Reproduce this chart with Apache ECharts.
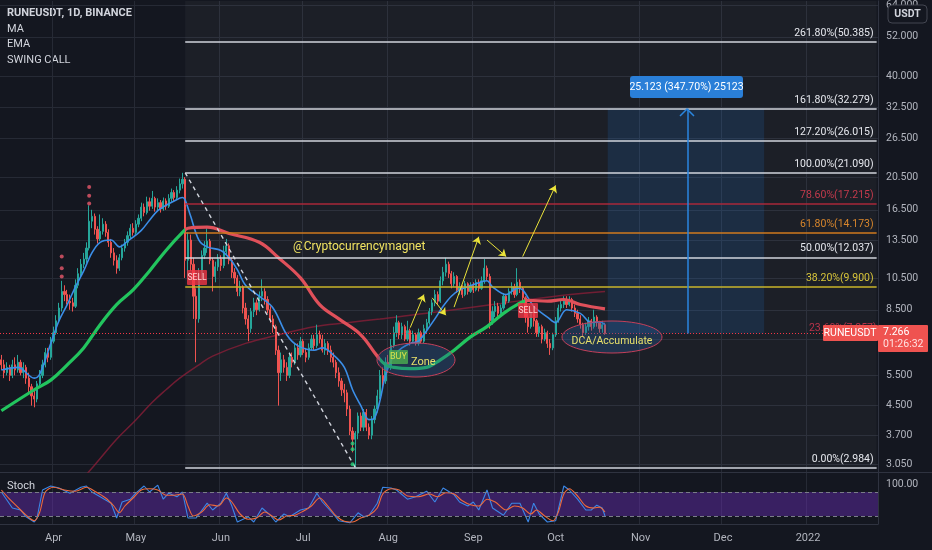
<!DOCTYPE html>
<html><head><meta charset="utf-8">
<script src="https://cdn.jsdelivr.net/npm/echarts@6/dist/echarts.min.js"></script>
<style>html,body{margin:0;padding:0;background:#141720;}#c{width:932px;height:550px;}</style>
</head><body><div id="c"></div>
<script>
// ---------- data ----------
const startDate = [2021, 2, 13];   // 13 Mar 2021 (first daily bar)
const dayCount = 320;              // visible days on the time axis
const tickDates = ['2021-04-01','2021-05-01','2021-06-01','2021-07-01','2021-08-01','2021-09-01','2021-10-01','2021-11-01','2021-12-01','2022-01-01'];
const tickLabels = ['Apr','May','Jun','Jul','Aug','Sep','Oct','Nov','Dec','2022'];
const priceTicks = [3.05,3.7,4.5,5.5,7,8.5,10.5,13.5,16.5,20.5,26.5,32.5,40,52,64];
const stochTicks = [100];

// daily candles [open, close, low, high]
const candles = [
[6.1,5.9,5.7,6.3],[5.9,5.6,5.4,6.1],[5.6,5.8,5.5,6.0],[5.8,5.5,5.3,5.9],[5.5,5.9,5.4,6.1],
[5.9,5.7,5.5,6.2],[5.7,6.0,5.6,6.3],[6.0,5.6,5.5,6.1],[5.6,5.8,5.4,6.0],[5.8,5.4,5.2,5.9],
[5.4,5.1,4.9,5.6],[5.1,4.8,4.5,5.2],[4.8,4.7,4.45,5.0],[4.7,5.2,4.6,5.3],[5.2,5.5,5.1,5.7],
[5.5,5.9,5.4,6.1],[5.9,6.4,5.8,6.6],[6.4,6.2,6.0,6.6],[6.2,6.9,6.1,7.1],[6.9,7.3,6.8,7.6],
[7.3,7.9,7.2,8.2],[7.9,8.6,7.8,8.9],[8.6,9.6,8.4,10.3],[9.6,9.4,9.0,10.0],[9.4,9.0,8.8,9.7],
[9.0,8.9,8.5,9.4],[8.9,8.7,8.4,9.2],[8.7,10.0,8.6,10.4],[10.0,10.8,9.8,11.2],[10.8,11.5,10.5,11.9],
[11.5,11.9,11.2,12.4],[11.9,12.8,11.6,13.3],[12.8,15.3,12.6,17.0],[15.3,15.8,14.6,16.5],[15.8,14.5,14.0,16.1],
[14.5,13.6,13.2,14.8],[13.6,14.3,13.4,16.0],[14.3,15.0,14.0,15.6],[15.0,14.2,13.8,15.3],[14.2,13.3,12.9,14.5],
[13.3,12.4,12.0,13.6],[12.4,11.8,11.4,12.8],[11.8,11.2,10.8,12.2],[11.2,12.0,11.0,12.3],[12.0,12.8,11.8,13.1],
[12.8,13.3,12.5,13.6],[13.3,13.9,13.0,14.3],[13.9,14.6,13.6,15.0],[14.6,14.2,13.9,15.1],[14.2,15.0,14.0,15.4],
[15.0,15.6,14.7,16.0],[15.6,16.8,15.3,17.3],[16.8,16.2,15.8,17.2],[16.2,17.4,16.0,18.0],[17.4,16.9,16.4,17.9],
[16.9,17.8,16.6,18.7],[17.8,16.8,16.3,18.0],[16.8,17.3,16.4,17.8],[17.3,16.6,16.2,17.6],[16.6,17.5,16.4,17.9],
[17.5,16.9,16.5,17.8],[16.9,17.8,16.7,18.3],[17.8,18.5,17.4,19.0],[18.5,17.9,17.5,18.8],[17.9,18.8,17.7,19.3],
[18.8,19.6,18.4,20.3],[19.6,20.2,19.0,21.09],[20.2,11.8,10.5,20.5],[11.8,13.5,10.5,14.2],[13.5,11.5,11.0,14.0],
[11.5,9.3,8.0,12.0],[9.3,8.0,6.0,9.8],[8.0,10.8,7.8,11.2],[10.8,12.2,10.4,12.6],[12.2,12.8,11.9,13.4],
[12.8,13.4,12.4,14.6],[13.4,11.8,11.5,13.6],[11.8,10.6,9.6,12.0],[10.6,11.3,10.2,11.7],[11.3,11.9,11.0,12.3],
[11.9,11.4,11.0,12.2],[11.4,12.5,11.2,13.0],[12.5,13.0,12.2,13.6],[13.0,11.8,11.5,13.2],[11.8,10.9,10.5,12.0],
[10.9,10.5,10.1,11.2],[10.5,9.6,9.3,10.7],[9.6,9.9,9.3,10.3],[9.9,8.6,8.3,10.0],[8.6,8.0,7.7,8.9],
[8.0,7.5,6.9,8.2],[7.5,8.4,7.3,8.6],[8.4,8.9,8.1,9.2],[8.9,8.5,8.2,9.1],[8.5,9.3,8.4,9.6],
[9.3,9.6,9.0,10.4],[9.6,9.1,8.8,9.8],[9.1,8.5,8.3,9.3],[8.5,8.0,7.8,8.7],[8.0,7.6,7.3,8.2],
[7.6,6.5,6.3,7.7],[6.5,5.6,4.5,6.7],[5.6,6.1,5.3,6.4],[6.1,5.8,5.6,6.3],[5.8,5.5,5.3,6.0],
[5.5,6.2,5.4,6.4],[6.2,6.0,5.8,6.4],[6.0,6.6,5.9,6.8],[6.6,6.3,6.1,6.8],[6.3,6.9,6.2,7.1],
[6.9,6.4,6.3,7.0],[6.4,6.2,6.0,6.6],[6.2,6.6,6.1,6.8],[6.6,7.0,6.5,7.2],[7.0,6.7,6.5,7.2],
[6.7,7.2,6.6,7.7],[7.2,7.0,6.8,7.4],[7.0,6.5,6.4,7.2],[6.5,6.8,6.3,7.0],[6.8,6.5,6.3,6.9],
[6.5,6.2,6.0,6.7],[6.2,6.0,5.8,6.4],[6.0,5.6,5.4,6.1],[5.6,5.3,5.1,5.8],[5.3,5.0,4.8,5.4],
[5.0,4.9,4.6,5.2],[4.9,4.4,4.2,5.0],[4.4,3.8,3.7,4.5],[3.8,3.6,3.3,3.9],[3.6,3.75,2.984,3.8],
[3.75,4.2,3.6,4.3],[4.2,3.9,3.8,4.3],[3.9,4.3,3.8,4.4],[4.3,3.9,3.8,4.4],[3.9,3.7,3.6,4.0],
[3.7,4.1,3.6,4.2],[4.1,4.4,4.0,4.5],[4.4,4.8,4.3,5.0],[4.8,5.5,4.7,5.7],[5.5,5.3,5.0,5.8],
[5.3,6.0,5.2,6.2],[6.0,5.8,5.6,6.3],[5.8,6.7,5.7,7.0],[6.7,7.3,6.6,7.6],[7.3,7.8,7.1,8.2],
[7.8,7.2,7.0,7.9],[7.2,7.6,7.0,7.8],[7.6,7.0,6.9,7.7],[7.0,7.4,6.9,7.9],[7.4,6.9,6.7,7.5],
[6.9,7.2,6.8,7.4],[7.2,6.8,6.7,7.3],[6.8,7.3,6.7,7.5],[7.3,6.9,6.8,7.4],[6.9,7.5,6.8,7.7],
[7.5,7.8,7.3,8.0],[7.8,8.4,7.7,8.6],[8.4,8.9,8.2,9.1],[8.9,9.4,8.7,9.7],[9.4,9.0,8.8,9.6],
[9.0,10.3,8.9,10.6],[10.3,10.9,10.0,11.3],[10.9,11.5,10.6,12.0],[11.5,10.8,10.5,11.7],[10.8,10.1,9.8,11.0],
[10.1,10.6,9.9,10.9],[10.6,9.7,9.5,10.7],[9.7,9.9,9.4,10.2],[9.9,9.4,9.2,10.0],[9.4,10.1,9.3,10.3],
[10.1,9.6,9.4,10.2],[9.6,10.0,9.5,10.2],[10.0,9.7,9.5,10.2],[9.7,10.2,9.6,10.4],[10.2,9.8,9.6,10.4],
[9.8,10.3,9.7,10.6],[10.3,11.2,10.1,11.9],[11.2,10.6,10.3,11.4],[10.6,7.9,7.5,10.8],[7.9,8.4,7.7,8.7],
[8.4,8.7,8.1,9.0],[8.7,8.3,8.1,8.9],[8.3,8.6,8.1,8.8],[8.6,9.3,8.5,9.5],[9.3,9.0,8.8,9.4],
[9.0,9.6,8.9,9.8],[9.6,9.9,9.4,10.2],[9.9,9.4,9.2,10.1],[9.4,10.2,9.3,11.2],[10.2,9.8,9.5,10.4],
[9.8,9.2,9.0,9.9],[9.2,8.1,7.8,9.3],[8.1,7.6,7.3,8.3],[7.6,8.3,7.5,8.5],[8.3,7.9,7.6,8.4],
[7.9,7.3,7.1,8.0],[7.3,7.6,7.1,7.8],[7.6,7.0,6.8,7.7],[7.0,7.3,6.9,7.5],[7.3,6.8,6.6,7.4],
[6.8,6.6,6.3,7.0],[6.6,7.2,6.5,7.3],[7.2,7.9,7.1,8.1],[7.9,8.6,7.8,8.8],[8.6,8.8,8.4,9.1],
[8.8,9.0,8.6,9.3],[9.0,8.8,8.6,9.3],[8.8,9.1,8.7,9.3],[9.1,8.6,8.4,9.2],[8.6,8.3,8.1,8.8],
[8.3,8.0,7.8,8.5],[8.0,7.7,7.5,8.2],[7.7,7.3,7.1,7.8],[7.3,7.6,7.2,7.8],[7.6,7.9,7.4,8.1],
[7.9,7.6,7.4,8.0],[7.6,8.1,7.5,8.5],[8.1,7.8,7.6,8.2],[7.8,7.5,7.3,7.9],[7.5,7.7,7.3,7.9],
[7.7,7.266,7.2,7.8]
];
const lastPrice = 7.266;

// indicator lines: [day index, value]
const emaPts = [[0,5.7],[6,5.8],[12,5.4],[14,5.55],[18,6.8],[21,7.9],[24,8.8],[27,9.9],[30,11.0],[33,12.4],[36,13.3],[40,13.5],[43,12.9],[46,13.4],[51,14.4],[54,15.4],[57,16.4],[60,17.0],[63,17.5],[66,17.9],[67,17.6],[69,15.8],[72,13.5],[75,12.9],[80,12.6],[83,12.0],[86,11.1],[89,10.0],[94,9.3],[99,8.6],[104,7.2],[108,6.7],[114,6.5],[117,6.6],[121,6.3],[125,5.8],[128,5.0],[131,4.5],[134,4.1],[136,4.15],[138,4.66],[140,5.5],[143,6.25],[146,6.6],[149,6.8],[152,6.9],[155,7.4],[158,8.0],[161,8.7],[164,9.3],[167,9.7],[170,9.9],[173,10.1],[177,10.3],[179,9.9],[184,9.4],[188,9.8],[190,9.7],[194,8.7],[199,8.1],[202,7.8],[206,8.5],[211,8.3],[215,7.8],[218,7.85],[220,7.7]];
const maPts = [[0,4.35],[12,5.0],[18,5.33],[24,5.9],[30,6.6],[36,7.7],[42,8.8],[48,9.7],[54,11.0],[60,12.6],[66,14.2],[68,14.6],[75,14.7],[83,14.1],[94,13.3],[101,12.0],[109,10.5],[116,8.8],[123,8.0],[131,7.2],[137,6.25],[140,5.9],[143,5.8],[149,5.75],[155,5.8],[160,6.1],[165,6.5],[171,7.1],[177,7.6],[183,8.3],[188,8.8],[192,9.05],[199,9.0],[205,9.1],[211,8.8],[220,8.55]];
const maTrendBreaks = [67,138,191];  // colour changes of the trend MA
const ma200Pts = [[31,2.85],[35,3.1],[42,3.6],[49,4.09],[55,4.6],[60,5.0],[65,5.4],[72,5.9],[77,6.25],[89,6.8],[101,7.2],[114,7.6],[126,7.8],[138,8.0],[155,8.3],[179,8.8],[204,9.35],[220,9.6]];
const sellDots = [[22,12.1],[22,11.2],[22,10.6],[32,19.2],[32,18.1],[32,17.2]];
const buyDots = [[128,3.5],[128,3.37],[128,3.05]];

// stochastic
const stochK = [[0,80],[2,60],[4,40],[7,35],[9,18],[12,5],[13,15],[15,85],[18,95],[21,90],[25,77],[29,92],[31,95],[33,80],[36,68],[40,52],[42,15],[44,55],[47,62],[49,77],[52,95],[54,80],[57,97],[59,62],[61,77],[64,68],[66,80],[68,15],[71,15],[75,52],[77,35],[80,52],[82,77],[84,45],[86,5],[90,18],[92,5],[95,40],[98,22],[100,5],[103,25],[105,18],[109,35],[112,40],[115,77],[117,55],[121,25],[123,8],[127,3],[130,28],[132,18],[134,22],[137,52],[139,92],[142,90],[144,85],[148,62],[151,68],[155,82],[158,55],[161,90],[165,73],[167,55],[170,45],[172,55],[174,35],[177,85],[179,40],[183,22],[186,52],[189,52],[192,5],[194,52],[196,25],[199,5],[202,8],[205,95],[207,85],[210,62],[213,35],[215,35],[217,47],[219,40],[220,20]];
const stochD = [[0,85],[3,62],[6,42],[9,22],[12,8],[14,30],[16,80],[19,92],[23,85],[27,82],[31,92],[34,82],[38,65],[41,45],[43,28],[45,45],[48,65],[51,85],[54,88],[57,85],[60,72],[63,72],[66,75],[68,45],[70,20],[73,30],[76,48],[79,45],[82,65],[84,55],[87,25],[90,12],[93,15],[96,30],[99,18],[101,10],[104,20],[107,22],[110,32],[113,45],[116,65],[119,45],[122,20],[125,7],[128,5],[131,15],[134,22],[137,40],[139,75],[142,88],[145,85],[148,70],[152,68],[156,75],[159,68],[162,78],[165,75],[168,58],[171,48],[174,45],[177,62],[180,55],[184,35],[187,45],[190,40],[193,25],[195,35],[198,20],[201,8],[203,30],[205,75],[207,88],[210,70],[213,45],[216,40],[218,42],[220,30]];
const stochBand = [20,80];

// fibonacci retracement
const fibStart = 67, fibLow = 129;
const fibLabels = ['261.80%','161.80%','127.20%','100.00%','78.60%','61.80%','50.00%','38.20%','23.60%','0.00%'];
const fibValues = [50.385,32.279,26.015,21.090,17.215,14.173,12.037,9.900,7.257,2.984];

// annotation arrows [[idx,price],[idx,price]]
const arrowSegs = [
 [[149,7.55],[154,9.4]],
 [[157,9.2],[162,8.2]],
 [[165,8.65],[174,13.8]],
 [[177,13.5],[184,12.1]],
 [[190,12.1],[202,19.4]]
];
const rangeBox = {from:221, to:278, arrowAt:250, low:7.266, high:32.279, text:'25.123 (347.70%) 25123'};

// ---------- chart ----------
const categories = [];
{
  const d0 = Date.UTC(startDate[0], startDate[1], startDate[2]);
  for (let i = 0; i < dayCount; i++) categories.push(new Date(d0 + i*86400000).toISOString().slice(0,10));
}
const GRID = '#262a35';
const TXT = '#b2b5be';
const FONT = 'Roboto, "Liberation Sans", sans-serif';
const isTick = (i, v) => tickDates.indexOf(v) >= 0;

const fibLineColors = ['#d1d4dc','#d1d4dc','#d1d4dc','#d1d4dc','#a8283a','#cf7a1e','#d1d4dc','#c8b42a','rgba(0,0,0,0)','#d1d4dc'];
const fibTextColors = ['#e6e8ee','#e6e8ee','#e6e8ee','#e6e8ee','#c33a4c','#d8862c','#e6e8ee','#d8c53a','#b8334a','#e6e8ee'];

const fibLines = fibValues.map((v, i) => [
  {coord:[fibStart, v], lineStyle:{color:fibLineColors[i], width:1.6, type:'solid'},
   label:{show:true, position:'insideEndTop', distance:(i === 8 ? 0 : 3), color:fibTextColors[i], fontSize:10.5, fontFamily:FONT,
          formatter: fibLabels[i] + '(' + v.toFixed(3) + ')'}},
  {coord:[dayCount-1, v]}
]);
fibLines.push([{coord:[fibStart, fibValues[3]], lineStyle:{color:'#d1d4dc', width:1.4, type:[4,4]}, label:{show:false}},
               {coord:[fibLow, fibValues[9]]}]);
fibLines.push({yAxis:lastPrice, lineStyle:{color:'#f23645', width:1, type:[1,2]}, label:{show:false}});

const option = {
  backgroundColor:'#141720',
  animation:false,
  textStyle:{fontFamily:FONT},
  grid:[{left:0,right:54,top:0,height:472},{left:0,right:54,top:473,height:51}],
  xAxis:[
    {type:'category', gridIndex:0, data:categories, boundaryGap:true,
     axisLine:{show:false}, axisTick:{show:false}, axisLabel:{show:false},
     splitLine:{show:true, interval:isTick, lineStyle:{color:GRID}}},
    {type:'category', gridIndex:1, data:categories, boundaryGap:true,
     axisLine:{show:true, lineStyle:{color:'#2f3340'}}, axisTick:{show:false},
     axisLabel:{interval:isTick, formatter:v => tickLabels[tickDates.indexOf(v)], color:TXT, fontSize:11, margin:9},
     splitLine:{show:true, interval:isTick, lineStyle:{color:GRID}}}
  ],
  yAxis:[
    {type:'log', gridIndex:0, position:'right', min:2.897, max:65.98, logBase:10,
     axisLine:{show:true, lineStyle:{color:'#2f3340'}},
     axisTick:{show:false, customValues:priceTicks},
     axisLabel:{customValues:priceTicks, formatter:v => Number(v).toFixed(3), color:TXT, fontSize:10.5, margin:8},
     splitLine:{show:true, lineStyle:{color:GRID}}},
    {type:'value', gridIndex:1, position:'right', min:0, max:127.5,
     axisLine:{show:true, lineStyle:{color:'#2f3340'}},
     axisTick:{show:false, customValues:stochTicks},
     axisLabel:{customValues:stochTicks, formatter:v => Number(v).toFixed(2), color:TXT, fontSize:10.5, margin:8},
     splitLine:{show:false}}
  ],
  visualMap:[{type:'piecewise', show:false, seriesIndex:2, dimension:0,
    pieces:[{lt:maTrendBreaks[0], color:'#22c55e'},
            {gte:maTrendBreaks[0], lt:maTrendBreaks[1], color:'#e0505a'},
            {gte:maTrendBreaks[1], lt:maTrendBreaks[2], color:'#22c55e'},
            {gte:maTrendBreaks[2], color:'#e0505a'}]}],
  series:[
    {type:'candlestick', xAxisIndex:0, yAxisIndex:0, data:candles, barWidth:'62%', z:3,
     itemStyle:{color:'#26a69a', color0:'#ef5350', borderColor:'#26a69a', borderColor0:'#ef5350', borderWidth:1},
     markArea:{silent:true, data:[
       [{coord:[fibStart, fibValues[9]], itemStyle:{color:'rgba(255,255,255,0.035)'}}, {coord:[dayCount-1, 65.98]}],
       [{coord:[rangeBox.from, rangeBox.low], itemStyle:{color:'rgba(33,120,220,0.16)'}}, {coord:[rangeBox.to, rangeBox.high]}]
     ]},
     markLine:{silent:true, symbol:['none','none'], animation:false, data:fibLines}
    },
    {type:'line', name:'EMA', xAxisIndex:0, yAxisIndex:0, data:emaPts, smooth:0.35, showSymbol:false, symbol:'none', z:4,
     lineStyle:{color:'#3b8ee8', width:1.6},
     markLine:{silent:true, symbol:['none','arrow'], symbolSize:7, animation:false,
       data: arrowSegs.map(s => [{coord:s[0], lineStyle:{color:'#ebe33a', width:1, type:'solid'}, label:{show:false}}, {coord:s[1]}])
         .concat([[{coord:[rangeBox.arrowAt, rangeBox.low], symbol:'none', lineStyle:{color:'#2a86e0', width:1.5, type:'solid'}, label:{show:false}},
                   {coord:[rangeBox.arrowAt, rangeBox.high], symbol:'none'}]])}
    },
    {type:'line', name:'MA', xAxisIndex:0, yAxisIndex:0, data:maPts, smooth:0.4, showSymbol:false, symbol:'none', z:4,
     lineStyle:{width:3.2}},
    {type:'line', name:'MA200', xAxisIndex:0, yAxisIndex:0, data:ma200Pts, smooth:0.4, showSymbol:false, symbol:'none', z:2,
     lineStyle:{color:'rgba(135,30,55,0.8)', width:1.5}},
    {type:'scatter', xAxisIndex:0, yAxisIndex:0, data:sellDots, symbolSize:4, itemStyle:{color:'#e8596c'}, z:5},
    {type:'scatter', xAxisIndex:0, yAxisIndex:0, data:buyDots, symbolSize:4, itemStyle:{color:'#27d27a'}, z:5},
    {type:'line', name:'%K', xAxisIndex:1, yAxisIndex:1, data:stochK, showSymbol:false, symbol:'none',
     lineStyle:{color:'#3b86e6', width:1.1},
     markArea:{silent:true, itemStyle:{color:'rgba(110,45,190,0.42)'}, data:[[{yAxis:stochBand[0]},{yAxis:stochBand[1]}]]},
     markLine:{silent:true, symbol:['none','none'], label:{show:false}, lineStyle:{color:'#7a7d88', type:[4,3], width:1},
       data:[{yAxis:stochBand[0]},{yAxis:stochBand[1]}]}},
    {type:'line', name:'%D', xAxisIndex:1, yAxisIndex:1, data:stochD, smooth:0.3, showSymbol:false, symbol:'none',
     lineStyle:{color:'#ef6a3a', width:1.1}}
  ],
  graphic:[
    {type:'line', shape:{x1:0,y1:472.5,x2:932,y2:472.5}, style:{stroke:'#2f3340', lineWidth:1}, silent:true},
    {type:'text', left:7, top:8, style:{text:'RUNEUSDT, 1D, BINANCE', fill:'#d1d4dc', font:'bold 11px '+FONT}},
    {type:'text', left:7, top:24, style:{text:'MA', fill:'#d1d4dc', font:'11px '+FONT}},
    {type:'text', left:7, top:39, style:{text:'EMA', fill:'#d1d4dc', font:'11px '+FONT}},
    {type:'text', left:7, top:55, style:{text:'SWING CALL', fill:'#d1d4dc', font:'11px '+FONT}},
    {type:'text', left:7, top:481, style:{text:'Stoch', fill:'#d1d4dc', font:'11px '+FONT}},
    {type:'text', left:293, top:241, style:{text:'@Cryptocurrencymagnet', fill:'#f2e45c', font:'12px '+FONT}},
    // Buy zone
    {type:'ellipse', shape:{cx:416, cy:360, rx:39, ry:17}, style:{fill:'rgba(40,90,150,0.35)', stroke:'#c5405a', lineWidth:1}, z:10},
    {type:'rect', shape:{x:389, y:350, width:19, height:14, r:1}, style:{fill:'rgba(76,175,80,0.8)'}, z:11},
    {type:'text', left:390, top:352, style:{text:'BUY', fill:'#d8e04a', font:'9px '+FONT}, z:12},
    {type:'text', left:411, top:357, style:{text:'Zone', fill:'#e8e06a', font:'11px '+FONT}, z:12},
    // DCA zone
    {type:'ellipse', shape:{cx:612, cy:337, rx:50, ry:16}, style:{fill:'rgba(40,90,150,0.35)', stroke:'#c5405a', lineWidth:1}, z:10},
    {type:'text', x:612, y:341, style:{text:'DCA/Accumulate', fill:'#e8e06a', font:'10.5px '+FONT, align:'center', verticalAlign:'middle'}, z:12},
    // sell labels
    {type:'rect', shape:{x:187, y:270, width:20, height:15, r:1}, style:{fill:'rgba(242,54,69,0.8)'}, z:11},
    {type:'text', x:197, y:278, style:{text:'SELL', fill:'#ffd0d0', font:'8.5px '+FONT, align:'center', verticalAlign:'middle'}, z:12},
    {type:'rect', shape:{x:518, y:303, width:20, height:15, r:1}, style:{fill:'rgba(242,54,69,0.8)'}, z:11},
    {type:'text', x:528, y:311, style:{text:'SELL', fill:'#ffd0d0', font:'8.5px '+FONT, align:'center', verticalAlign:'middle'}, z:12},
    // range label + chevron
    {type:'polyline', shape:{points:[[680,116],[687,109],[694,116]]}, style:{stroke:'#2a86e0', lineWidth:1.5, fill:null}, z:11},
    {type:'rect', shape:{x:630, y:76, width:113, height:22, r:3}, style:{fill:'#2a7fd8'}, z:11},
    {type:'text', x:686.5, y:87, style:{text:rangeBox.text, fill:'#ffffff', font:'10.5px '+FONT, align:'center', verticalAlign:'middle'}, z:12},
    // price tags
    {type:'rect', shape:{x:823, y:325, width:55, height:16, r:1}, style:{fill:'#ef5350'}, z:20},
    {type:'text', x:850, y:333.5, style:{text:'RUNEUSDT', fill:'#ffffff', font:'10.5px '+FONT, align:'center', verticalAlign:'middle'}, z:21},
    {type:'rect', shape:{x:878, y:325, width:50, height:27, r:1}, style:{fill:'#ef5350'}, z:20},
    {type:'text', left:883, top:327, style:{text:lastPrice.toFixed(3), fill:'#ffffff', font:'10.5px '+FONT}, z:21},
    {type:'text', left:883, top:339, style:{text:'01:26:32', fill:'#ffe0e0', font:'10.5px '+FONT}, z:21},
    // unit box
    {type:'rect', shape:{x:888, y:5, width:39, height:18, r:4}, style:{fill:'#141720', stroke:'#434651', lineWidth:1}, z:20},
    {type:'text', x:907.5, y:14, style:{text:'USDT', fill:'#d1d4dc', font:'bold 10.5px '+FONT, align:'center', verticalAlign:'middle'}, z:21}
  ]
};
const chart = echarts.init(document.getElementById('c'));
chart.setOption(option);
</script>
</body></html>
